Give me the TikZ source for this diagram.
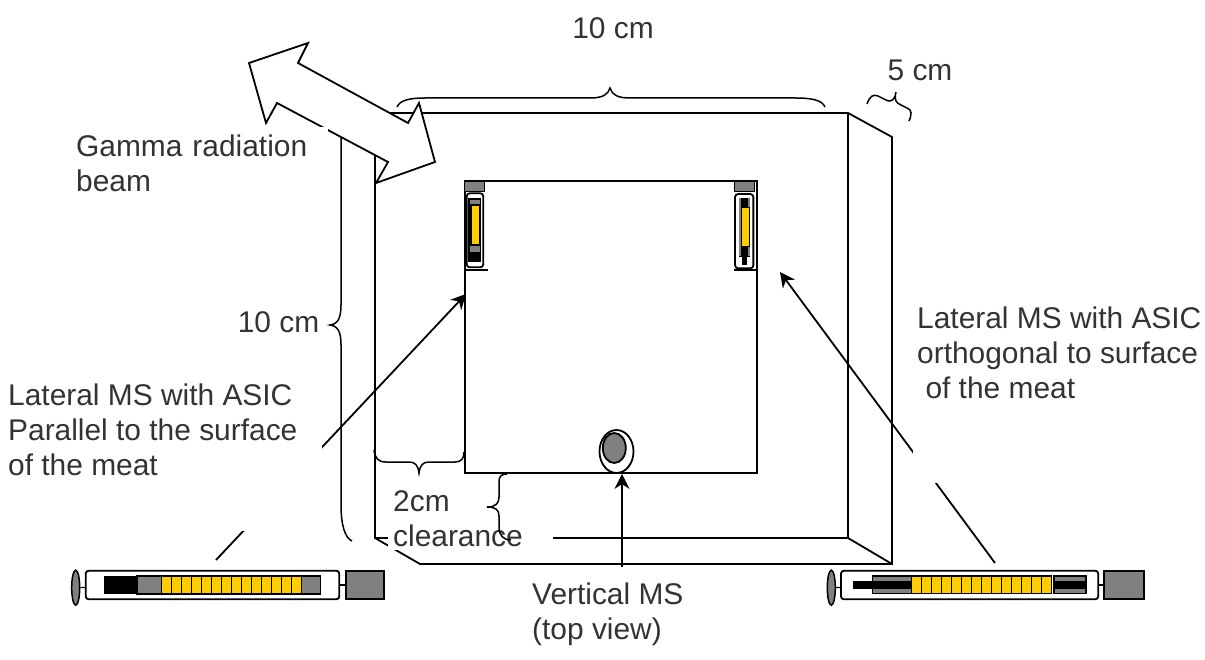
\documentclass[tikz,border=0pt]{standalone}
\usepackage{fontspec}
\setmainfont{Liberation Sans}
\usepackage{tikz}
\usetikzlibrary{arrows.meta}
\usetikzlibrary{shapes.geometric}
\definecolor{inktext}{HTML}{333333}
\definecolor{cellyellow}{HTML}{FFCC00}
\definecolor{partgray}{HTML}{808080}
\tikzset{
	lbl/.style={text=inktext, font=\fontsize{29.9}{35}\selectfont, align=left, inner sep=0pt},
	wall/.style={line width=1.8pt},
	curly/.style={line width=1.5pt},
	tube/.style={draw, line width=1.8pt, fill=white, rounded corners=3pt, inner sep=0pt},
	plug/.style={draw, line width=1.8pt, fill=partgray, inner sep=0pt},
	knob/.style={draw, ellipse, line width=1.5pt, fill=partgray, inner sep=0pt},
	cell/.style={draw, line width=1.3pt, fill=cellyellow},
	block/.style={draw, line width=1.3pt, fill=partgray},
	core/.style={fill=black}
}
\begin{document}
\begin{tikzpicture}[>={Stealth[length=15pt,width=15pt]}, x=1pt, y=-1pt]
	\useasboundingbox (0,0) rectangle (1205,660);
	\coordinate (lfoot) at (216,560);
	\coordinate (ltip) at (466,294);
	\coordinate (rfoot) at (995,563);
	\coordinate (rtip) at (780,272);
	\coordinate (vfoot) at (622,567);

	\draw[wall] (375,113) -- (848,113) -- (892,137) -- (892,564) -- (420,564) -- (375,538) -- cycle;
	\draw[wall] (848,113) -- (848,538) -- (892,564);
	\draw[wall] (375,538) -- (848,538);
	\node[draw, line width=1.8pt, minimum size=292pt, inner sep=0pt] (meat) at (611,327) {};

	\draw[curly] (397,107) .. controls (400,100) and (410,98) .. (425,98) -- (590,98) .. controls (602,98) and (608,95) .. (610,88) .. controls (612,95) and (618,98) .. (630,98) -- (795,98) .. controls (812,98) and (822,100) .. (825,107);
	\draw[curly] (867,104) .. controls (870,96) and (873,94) .. (878,96) -- (886,100) .. controls (892,103) and (895,99) .. (896,92) .. controls (894,100) and (896,103) .. (901,105) -- (907,108) .. controls (912,110) and (912,114) .. (909,121);
	\draw[curly] (352,541) .. controls (345,538) and (341,525) .. (341,505) -- (341,345) .. controls (341,332) and (338,326) .. (330,325) .. controls (338,324) and (341,318) .. (341,305) -- (341,135);
	\draw[curly] (374,450) .. controls (375,458) and (378,462) .. (386,462) -- (409,462) .. controls (415,462) and (418,465) .. (419,473) .. controls (420,465) and (423,462) .. (429,462) -- (455,462) .. controls (461,462) and (464,459) .. (464,452);

	\node[knob, minimum width=8pt, minimum height=35pt] (lknob) at (75.7,587.7) {};
	\node[tube, minimum width=253.6pt, minimum height=28.6pt] (lbar) at (212.5,585) {};
	\node[plug, minimum width=38.3pt, minimum height=28.6pt] (lplug) at (365.2,585) {};
	\draw[line width=1.2pt] (lknob) -- (lbar);
	\draw[line width=1.2pt] (lbar) -- (lplug);
	\fill[core] (103.7,576) rectangle (137,594);
	\draw[block] (137,576) rectangle (161.7,594);
	\foreach \i in {0,...,13}
		\draw[cell] ({161.7+10*\i},576) rectangle ++(10,18);
	\draw[block] (301.7,576) rectangle (320.7,594);

	\node[knob, minimum width=8pt, minimum height=35pt] (rknob) at (831.3,587.7) {};
	\node[tube, minimum width=257.3pt, minimum height=28.6pt] (rbar) at (969.6,585) {};
	\node[plug, minimum width=39.7pt, minimum height=28.6pt] (rplug) at (1124.2,585) {};
	\draw[line width=1.2pt] (rknob) -- (rbar);
	\draw[line width=1.2pt] (rbar) -- (rplug);
	\draw[block] (872.7,576) rectangle (911.7,593.3);
	\fill[core] (853.3,581.3) rectangle (911.7,588.7);
	\foreach \i in {0,...,13}
		\draw[cell] ({911.7+10*\i},576) rectangle ++(10,17.3);
	\draw[block] (1054,576) rectangle (1086,593.3);
	\fill[core] (1054,581.3) rectangle (1086,588.7);

	\node[plug, line width=0.6pt, minimum width=20pt, minimum height=10.7pt] (lcap) at (474,186.3) {};
	\node[tube, minimum width=16.6pt, minimum height=74pt] (ltube) at (475,230.3) {};
	\fill[core] (468.3,198) rectangle (480.7,262);
	\fill[partgray] (469.5,200) rectangle (479.5,204);
	\draw[cell, line width=0.6pt] (471.7,205.7) rectangle (479.3,244);
	\fill[partgray] (469.5,245.7) rectangle (479.5,251.7);
	\draw[line width=2pt] (464,269.7) -- (488,269.7);

	\node[plug, line width=0.6pt, minimum width=20pt, minimum height=10.7pt] (rcap) at (744,186.3) {};
	\node[tube, minimum width=18.3pt, minimum height=74.3pt] (rtube) at (744.2,231.2) {};
	\fill[core] (738.5,198) rectangle (750,257);
	\fill[partgray] (739,198) rectangle (741,256);
	\fill[partgray] (747.5,198) rectangle (749.5,256);
	\fill[core] (741.7,198) rectangle (746.7,265);
	\draw[cell, line width=0.6pt] (741.7,207.3) rectangle (749.3,246);
	\draw[line width=2pt] (734,269.7) -- (755.7,269.7);

	\node[ellipse, draw, line width=1.8pt, fill=white, minimum width=34pt, minimum height=43pt, inner sep=0pt] (vout) at (616.5,451.5) {};
	\node[knob, line width=1.8pt, minimum width=23pt, minimum height=30pt] (vin) at (614.3,448) {};

	\draw[->, line width=1.8pt] (lfoot) -- (ltip);
	\draw[->, line width=1.8pt] (rfoot) -- (rtip);

	\draw[wall, fill=white] (249,63) -- (308,43) -- (298,63) -- (408,123) -- (419,103) -- (435,162) -- (376,183) -- (388,162) -- (277,103) -- (266,123) -- cycle;

	\fill[white] (3,375) rectangle (322,531);
	\fill[white] (913,300) rectangle (1205,483);

	\node[lbl, fill=white, anchor=north west, inner ysep=7.5pt, text width=252pt] (gamma) at (76,127) {Gamma radiation\\beam};
	\node[lbl, fill=white, anchor=north west, inner xsep=5pt, inner ysep=4pt, text width=155pt] (clearance) at (388,486) {2cm\\clearance};
	\draw[curly] (507,474) .. controls (502,474) and (499,476) .. (499,481) -- (499,497) .. controls (499,503) and (496,507) .. (487,507) .. controls (496,507) and (499,510) .. (499,516) -- (499,527) .. controls (499,535) and (503,540) .. (511,540);
	\node[lbl, fill=white, anchor=north west, inner xsep=0pt, inner ysep=16pt] (vms) at (532,567) {Vertical MS\\(top view)};
	\draw[->, line width=1.8pt] (vfoot) -- (vfoot |- vout.south);
	\node[lbl] (topsize) at (613,28) {10 cm};
	\node[lbl] (depthsize) at (920,70) {5 cm};
	\node[lbl] (leftsize) at (278.5,322) {10 cm};
	\node[lbl, anchor=north west] (llabel) at (8,384) {Lateral MS with ASIC\\Parallel to the surface\\of the meat};
	\node[lbl, anchor=north west] (rlabel) at (917,307) {Lateral MS with ASIC\\orthogonal to surface\\\ of the meat};
\end{tikzpicture}
\end{document}
